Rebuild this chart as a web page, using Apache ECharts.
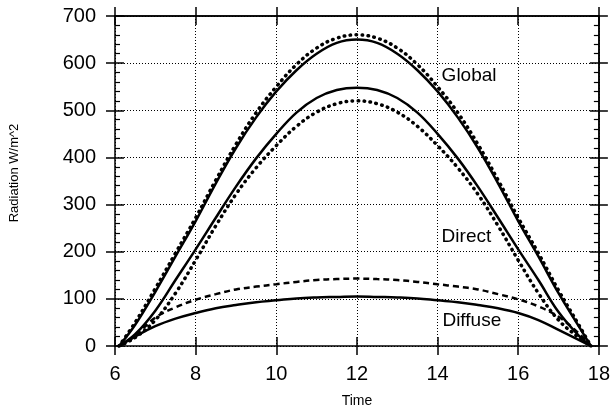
<!DOCTYPE html>
<html>
<head>
<meta charset="utf-8">
<script src="https://cdn.jsdelivr.net/npm/echarts@6/dist/echarts.min.js"></script>
<style>
html,body{margin:0;padding:0;background:#fff;}
#chart{width:613px;height:413px;}
</style>
</head>
<body>
<div id="chart"></div>
<script>
// ---- data ----
const times = [6.1, 6.5, 7, 7.5, 8, 8.5, 9, 9.5, 10, 10.5, 11, 11.5, 12, 12.5, 13, 13.5, 14, 14.5, 15, 15.5, 16, 16.5, 17, 17.5, 17.8];
const globalSolid  = [0, 45, 115, 190, 265, 345, 420, 485, 540, 585, 620, 643, 650, 643, 620, 585, 540, 485, 420, 345, 265, 190, 112, 42, 0];
const globalDotted = [0, 50, 122, 197, 272, 352, 428, 495, 550, 597, 632, 653, 660, 653, 632, 597, 550, 495, 428, 352, 272, 197, 118, 45, 0];
const directSolid  = [0, 25, 75, 140, 205, 272, 338, 398, 450, 495, 526, 543, 548, 543, 526, 495, 450, 398, 338, 272, 205, 140, 72, 22, 0];
const directDotted = [0, 18, 55, 112, 182, 255, 322, 378, 425, 466, 496, 514, 520, 514, 496, 466, 425, 378, 322, 255, 182, 112, 55, 18, 0];
const diffuseSolid = [0, 20, 42, 58, 70, 80, 87, 93, 97, 101, 103, 104, 105, 104, 103, 101, 97, 93, 87, 80, 70, 55, 34, 13, 0];
const diffuseDash  = [0, 22, 60, 82, 98, 110, 120, 126, 131, 136, 140, 142, 143, 142, 140, 136, 131, 126, 120, 110, 99, 84, 62, 27, 0];
const labelNames = ['Global', 'Direct', 'Diffuse'];
const labelT = [14.1, 14.1, 14.12];
const labelV = [573, 231, 53];
const xTicks = [6, 8, 10, 12, 14, 16, 18];
const yTicks = [0, 100, 200, 300, 400, 500, 600, 700];

const FONT = 'Liberation Sans, Arial, Helvetica, sans-serif';
const pair = (vals) => times.map((t, i) => [t, vals[i]]);

function xAx(pos, inside, main) {
  return {
    type: 'value', min: xTicks[0], max: xTicks[xTicks.length - 1], interval: 2, position: pos,
    axisLine: { show: main || pos === 'top', onZero: false, lineStyle: { color: '#000', width: 1.5 } },
    axisTick: { show: true, inside: inside, length: 9, lineStyle: { color: '#000', width: 1.5 } },
    axisLabel: main ? { show: true, margin: 18, fontSize: 20, color: '#000', fontFamily: FONT } : { show: false },
    splitLine: main ? { show: true, lineStyle: { color: '#000', width: 1, type: [1, 2] } } : { show: false },
    name: main ? 'Time' : '', nameLocation: 'middle', nameGap: 48,
    nameTextStyle: { fontSize: 14, color: '#000', fontFamily: FONT }
  };
}
function yAx(pos, inside, main, minor) {
  return {
    type: 'value', min: yTicks[0], max: yTicks[yTicks.length - 1], interval: 100, position: pos,
    axisLine: { show: main || pos === 'right', onZero: false, lineStyle: { color: '#000', width: 1.5 } },
    axisTick: { show: true, inside: inside, length: 9, lineStyle: { color: '#000', width: 1.5 } },
    minorTick: { show: minor, splitNumber: 5, length: 5, lineStyle: { color: '#000', width: 1.2 } },
    axisLabel: main ? { show: true, margin: 19, fontSize: 20, color: '#000', fontFamily: FONT } : { show: false },
    splitLine: main ? { show: true, lineStyle: { color: '#000', width: 1, type: [1, 2] } } : { show: false },
    name: main ? 'Radiation W/m^2' : '', nameLocation: 'middle', nameGap: 94,
    nameTextStyle: { fontSize: 13, color: '#000', fontFamily: FONT, padding: [0, 0, 0, 16] }
  };
}

const chart = echarts.init(document.getElementById('chart'), null, { renderer: 'canvas' });
const solid = { color: '#000', width: 2.5 };
const dotted = { color: '#000', width: 3.5, type: [0.5, 5.5], cap: 'round' };
const dashed = { color: '#000', width: 2.5, type: [6, 4] };
function lineSeries(name, vals, style) {
  return { name: name, type: 'line', xAxisIndex: 0, yAxisIndex: 0, data: pair(vals), smooth: 0.4,
    showSymbol: false, lineStyle: style, silent: true, animation: false };
}
chart.setOption({
  animation: false,
  backgroundColor: '#fff',
  grid: { left: 115, right: 14, top: 16, bottom: 67 },
  xAxis: [xAx('bottom', false, true), xAx('bottom', true, false), xAx('top', true, false), xAx('top', false, false)],
  yAxis: [yAx('left', false, true, false), yAx('left', true, false, true), yAx('right', true, false, true), yAx('right', false, false, false)],
  series: [
    lineSeries('Global measured', globalSolid, solid),
    lineSeries('Global model', globalDotted, dotted),
    lineSeries('Direct measured', directSolid, solid),
    lineSeries('Direct model', directDotted, dotted),
    lineSeries('Diffuse measured', diffuseSolid, solid),
    lineSeries('Diffuse model', diffuseDash, dashed),
    {
      type: 'scatter', xAxisIndex: 0, yAxisIndex: 0, symbolSize: 0, silent: true,
      itemStyle: { opacity: 1, color: '#000' },
      data: labelNames.map((n, i) => ({ value: [labelT[i], labelV[i]], name: n })),
      label: { show: true, position: 'right', distance: 0, formatter: p => p.name, opacity: 1,
        fontSize: 19, color: '#000', fontFamily: FONT, align: 'left', verticalAlign: 'middle' }
    }
  ]
});
</script>
</body>
</html>
